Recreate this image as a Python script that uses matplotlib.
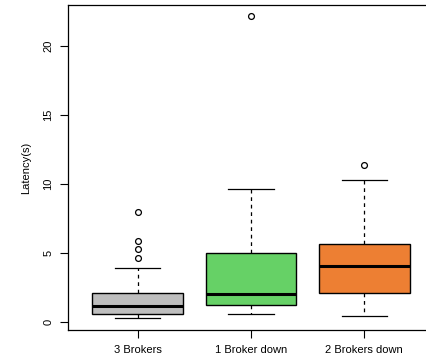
import matplotlib
matplotlib.use("Agg")
from matplotlib import pyplot as plt

plt.rcParams['font.family'] = ['Liberation Sans', 'DejaVu Sans']

# values
labels = ['3 Brokers', '1 Broker down', '2 Brokers down']
medians = [1.2, 2.05, 4.08]
q1s = [0.58, 1.23, 2.12]
q3s = [2.1, 5.04, 5.70]
whislo = [0.29, 0.62, 0.48]
whishi = [3.96, 9.66, 10.29]
outliers = [[4.64, 5.31, 5.89, 7.97], [22.17], [11.38]]
colors = ['#BEBEBE', '#66D166', '#ED7F33']


def build_stats():
    stats = []
    for i in range(len(labels)):
        stats.append({
            'label': labels[i],
            'med': medians[i],
            'q1': q1s[i],
            'q3': q3s[i],
            'whislo': whislo[i],
            'whishi': whishi[i],
            'fliers': outliers[i],
        })
    return stats


fig = plt.figure(figsize=(4.27, 3.63), dpi=100)
ax = fig.add_axes([68 / 427, 1 - 330 / 363, (434 - 68) / 427, (330 - 5.3) / 363])

bp = ax.bxp(build_stats(), widths=0.8, patch_artist=True,
            boxprops=dict(edgecolor='black', linewidth=1.0),
            medianprops=dict(color='black', linewidth=2.2),
            whiskerprops=dict(color='black', linewidth=0.9, linestyle=(0, (3, 3))),
            capprops=dict(color='black', linewidth=0.9),
            capwidths=0.4,
            flierprops=dict(marker='o', markerfacecolor='none', markeredgecolor='black',
                            markersize=4.2, markeredgewidth=0.9))

for patch, c in zip(bp['boxes'], colors):
    patch.set_facecolor(c)

ax.set_xlim(0.385, 3.615)
ax.set_ylim(-0.56, 22.97)
ax.set_yticks([0, 5, 10, 15, 20])
ax.set_xticks([1, 2, 3])
ax.set_xticklabels(labels)
ax.spines['right'].set_visible(False)
for s in ['left', 'bottom', 'top']:
    ax.spines[s].set_linewidth(0.9)

ax.tick_params(axis='both', length=5.5, width=0.8, labelsize=8, pad=5)
for lab in ax.get_yticklabels():
    lab.set_rotation(90)
    lab.set_va('center')

ax.set_ylabel('Latency(s)', fontsize=8, labelpad=9)

fig.savefig('out.png', dpi=100)
